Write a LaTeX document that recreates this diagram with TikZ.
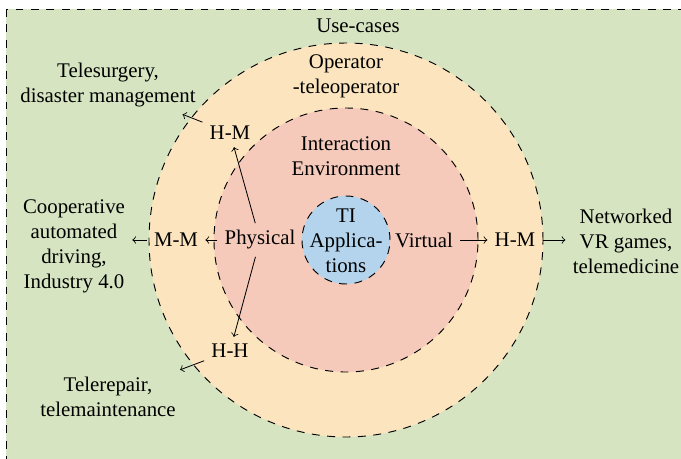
\documentclass[tikz,border=0pt]{standalone}
\usepackage{fontspec}
\setmainfont{Liberation Serif}
\definecolor{bggreen}{RGB}{214,228,193}
\definecolor{ringorange}{RGB}{252,229,190}
\definecolor{ringpink}{RGB}{245,202,187}
\definecolor{ringblue}{RGB}{179,212,236}
\begin{document}
\begin{tikzpicture}[x=0.48pt,y=-0.48pt,
  txt/.style={align=center, inner sep=3.33pt},
  conn/.style={->, line width=0.4pt},
  dashline/.style={draw, dash pattern=on 3.8pt off 3.6pt, line width=0.45pt}]
\useasboundingbox (0,0) rectangle (681,458);
\clip (0,0) rectangle (681,458);
\draw[dashline, fill=bggreen] (6,9) rectangle (700,480);
\coordinate (c) at (346,240);
\draw[dashline, fill=ringorange] (c) circle[radius=94.56pt];
\draw[dashline, fill=ringpink] (c) circle[radius=63.36pt];
\draw[dashline, fill=ringblue] (c) circle[radius=21.12pt];

\node[txt] (use) at (358,26) {Use-cases};
\node[txt] (op) at (346,76) {Operator\\-teleoperator};
\node[txt] (ie) at (346,156) {Interaction\\Environment};
\node[txt] (ti) at (346,241) {TI\\Applica-\\tions};
\node[txt] (phys) at (260,240) {Physical};
\node[txt] (virt) at (424,240) {Virtual};
\node[txt] (hmr) at (515,240) {H-M};
\node[txt] (mm) at (176,240) {M-M};
\node[txt] (hmt) at (230,133) {H-M};
\node[txt] (hh) at (230,351) {H-H};
\node[txt] (tele) at (108,85) {Telesurgery,\\disaster management};
\node[txt] (coop) at (74,246) {Cooperative\\automated\\driving,\\Industry 4.0};
\node[txt] (rep) at (108,397) {Telerepair,\\telemaintenance};
\node[txt] (net) at (626,241) {Networked\\VR games,\\telemedicine};

\draw[conn] (phys) -- (hmt);
\draw[conn] (phys) -- (hh);
\draw[conn] (phys) -- (mm);
\draw[conn] (mm) -- (mm -| coop.east);
\draw[conn] (hmt) -- (tele);
\draw[conn] (hh) -- (rep);
\draw[conn] (virt) -- (hmr);
\draw[conn] (hmr) -- (hmr -| net.west);
\end{tikzpicture}
\end{document}
